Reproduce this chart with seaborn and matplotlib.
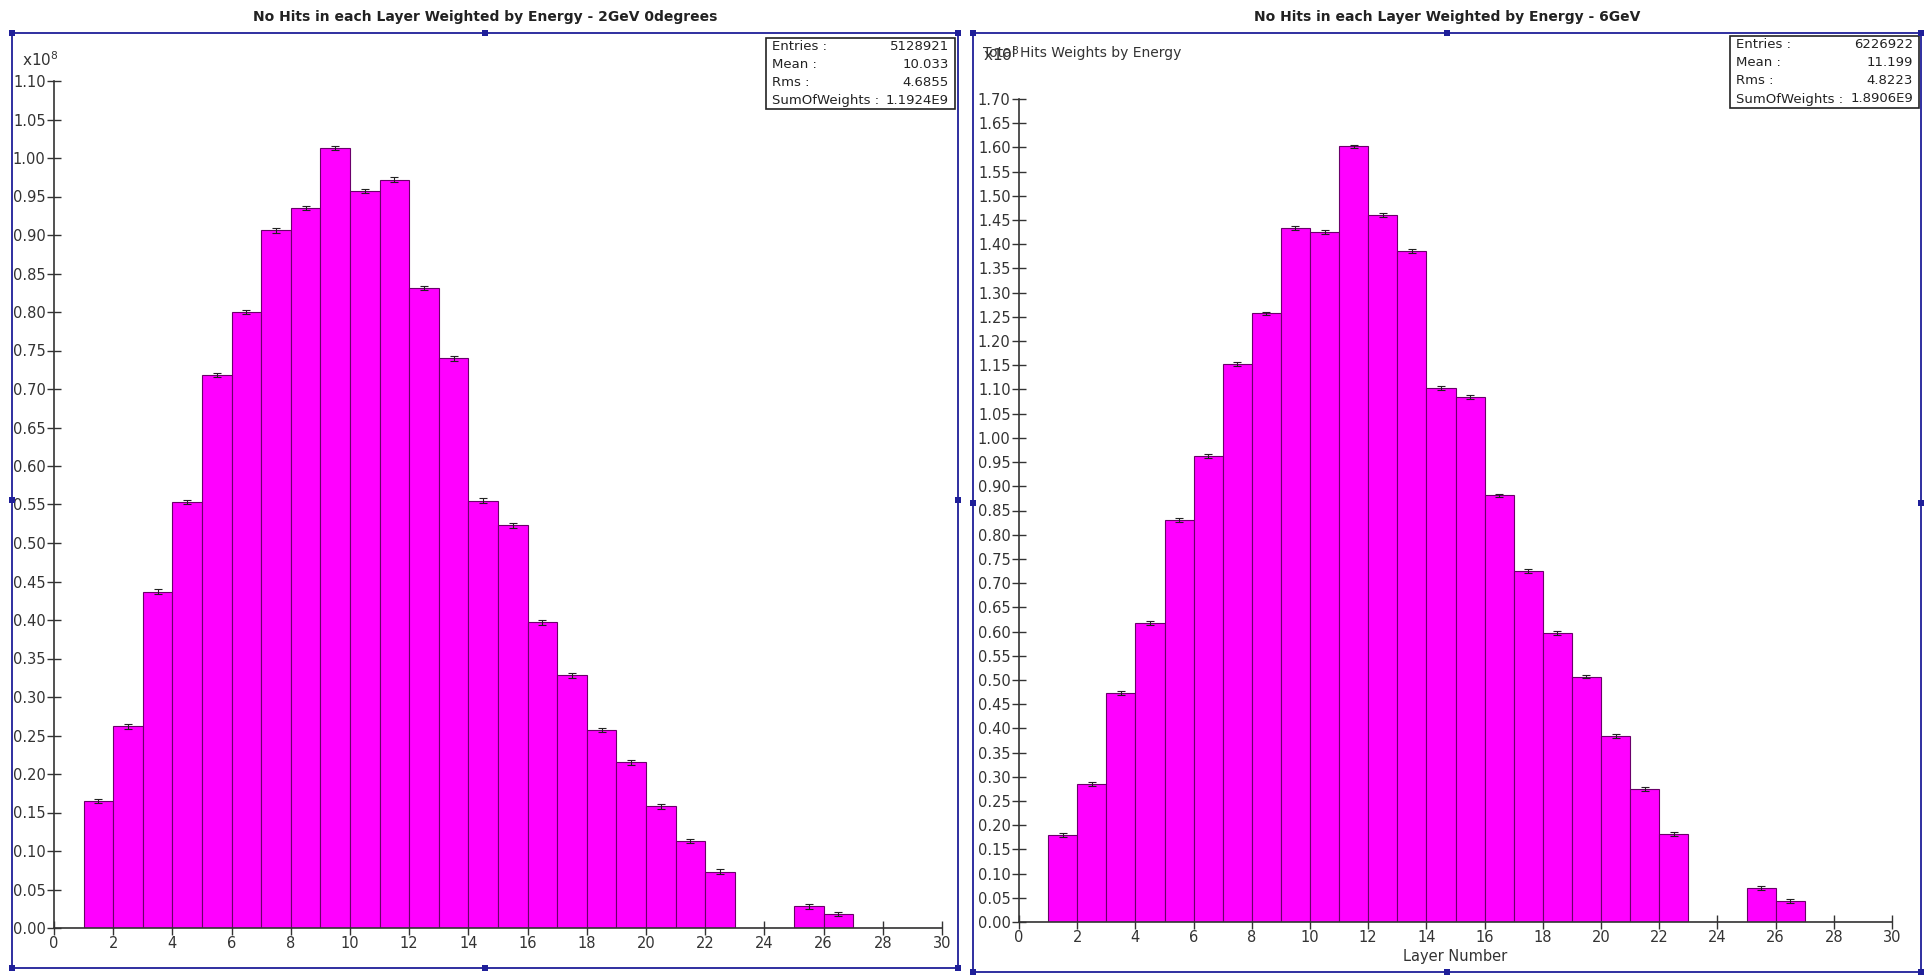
import numpy as np
import pandas as pd
import seaborn as sns
import matplotlib.pyplot as plt
from matplotlib.patches import Rectangle

# Data (weights in units of 1e8), one bin per layer [n, n+1)
layers = list(range(1, 27))
w_2gev = [0.165, 0.262, 0.437, 0.553, 0.718, 0.800, 0.906, 0.935, 1.013, 0.957,
          0.972, 0.831, 0.740, 0.555, 0.523, 0.397, 0.328, 0.257, 0.215, 0.158,
          0.113, 0.073, 0.0, 0.0, 0.028, 0.018]
w_6gev = [0.180, 0.285, 0.473, 0.617, 0.830, 0.963, 1.153, 1.257, 1.433, 1.426,
          1.602, 1.461, 1.386, 1.103, 1.085, 0.881, 0.725, 0.597, 0.507, 0.385,
          0.275, 0.182, 0.0, 0.0, 0.070, 0.043]
x_ticks = list(range(0, 31, 2))

title_2gev = 'No Hits in each Layer Weighted by Energy - 2GeV 0degrees'
title_6gev = 'No Hits in each Layer Weighted by Energy - 6GeV'
stats_2gev = [('Entries :', '5128921'), ('Mean :', '10.033'), ('Rms :', '4.6855'),
              ('SumOfWeights :', '1.1924E9')]
stats_6gev = [('Entries :', '6226922'), ('Mean :', '11.199'), ('Rms :', '4.8223'),
              ('SumOfWeights :', '1.8906E9')]

sns.set_theme(style='white')
plt.rcParams['font.family'] = ['DejaVu Sans']

W, H = 1925, 976
fig = plt.figure(figsize=(W / 100, H / 100), dpi=100)
fig.patch.set_facecolor('white')


def px(x0, y0, x1, y1):
    # pixel box (top-left origin) -> figure fraction rect
    return [x0 / W, 1 - y1 / H, (x1 - x0) / W, (y1 - y0) / H]


def draw_hist(ax, weights, ymax, err):
    df = pd.DataFrame({'layer': np.array(layers) + 0.5, 'w': weights})
    sns.histplot(data=df, x='layer', weights='w', binwidth=1, binrange=(0, 30), ax=ax,
                 color='#ff00ff', alpha=1, edgecolor='#6a006a', linewidth=0.8)
    nz = df[df['w'] > 0]
    ax.errorbar(nz['layer'], nz['w'], yerr=err, fmt='none', ecolor='#222222',
                elinewidth=0.8, capsize=3, capthick=0.8)
    ax.set_xlim(0, 30)
    ax.set_ylim(0, ymax)
    ax.set_xticks(x_ticks)
    ax.set_yticks(np.round(np.arange(0, ymax + 0.001, 0.05), 2))
    ax.yaxis.set_major_formatter(plt.FormatStrFormatter('%.2f'))
    ax.set_ylabel('')
    ax.set_xlabel('')
    for s in ['top', 'right']:
        ax.spines[s].set_visible(False)
    for s in ['left', 'bottom']:
        ax.spines[s].set_color('#333333')
        ax.spines[s].set_linewidth(1.2)
    ax.tick_params(direction='inout', length=10, width=1, colors='#333333',
                   labelsize=10.5, labelcolor='#333333', left=True, bottom=True, pad=1)
    ax.set_facecolor('white')


ax1 = fig.add_axes(px(54, 81, 942, 928))
draw_hist(ax1, w_2gev, 1.10, 0.003)
ax2 = fig.add_axes(px(1019, 99, 1892, 922))
draw_hist(ax2, w_6gev, 1.70, 0.004)
ax2.set_xlabel('Layer Number', fontsize=10.5, color='#333333', labelpad=3)

# titles and axis annotations
fig.text(485 / W, 1 - 17 / H, title_2gev, ha='center', va='center',
         fontsize=10, fontweight='bold', color='#222222')
fig.text(1447 / W, 1 - 17 / H, title_6gev, ha='center', va='center',
         fontsize=10, fontweight='bold', color='#222222')
fig.text(22 / W, 1 - 60 / H, r'x10$^8$', fontsize=11, color='#333333', va='center')
fig.text(983 / W, 1 - 55 / H, r'x10$^8$', fontsize=11, color='#333333', va='center')
fig.text(983 / W, 1 - 53 / H, 'Total Hits Weights by Energy', fontsize=10,
         color='#333333', va='center')


def stats_box(x0, y0, x1, y1, rows):
    fig.add_artist(Rectangle((x0 / W, 1 - y1 / H), (x1 - x0) / W, (y1 - y0) / H,
                             transform=fig.transFigure, fill=True, fc='white',
                             ec='#222222', lw=1.2))
    step = (y1 - y0) / 4
    for i, (lab, val) in enumerate(rows):
        yy = 1 - (y0 + step * (i + 0.5)) / H
        fig.text((x0 + 6) / W, yy, lab, fontsize=9.5, color='#222222', va='center')
        fig.text((x1 - 6) / W, yy, val, fontsize=9.5, color='#222222',
                 va='center', ha='right')


stats_box(766, 38, 955, 109, stats_2gev)
stats_box(1730, 36, 1919, 108, stats_6gev)


def frame(x0, y0, x1, y1):
    blue = '#1f1f99'
    fig.add_artist(Rectangle((x0 / W, 1 - y1 / H), (x1 - x0) / W, (y1 - y0) / H,
                             transform=fig.transFigure, fill=False, ec=blue, lw=1.3))
    xm, ym = (x0 + x1) / 2, (y0 + y1) / 2
    for hx, hy in [(x0, y0), (xm, y0), (x1, y0), (x0, ym), (x1, ym),
                   (x0, y1), (xm, y1), (x1, y1)]:
        fig.add_artist(Rectangle(((hx - 3) / W, 1 - (hy + 3) / H), 6 / W, 6 / H,
                                 transform=fig.transFigure, fc=blue, ec=blue, lw=0))


frame(12, 33, 958, 968)
frame(973, 33, 1921, 972)

fig.savefig('out.png', dpi=100, facecolor='white')
